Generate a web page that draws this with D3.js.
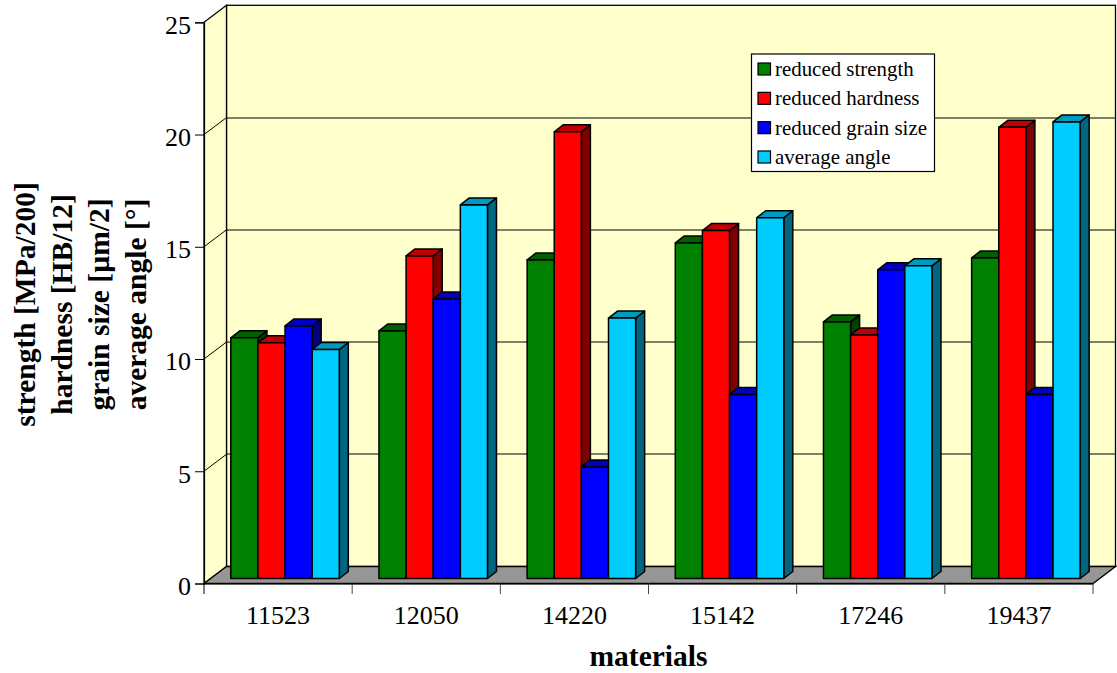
<!DOCTYPE html>
<html>
<head>
<meta charset="utf-8">
<script src="https://cdn.jsdelivr.net/npm/d3@7"></script>
<style>
  html, body { margin: 0; padding: 0; background: #fff; }
  svg { display: block; }
  text { font-family: "Liberation Serif", serif; fill: #000; }
</style>
</head>
<body>
<div id="canvas"></div>
<script>
// Data

const materials = ["11523", "12050", "14220", "15142", "17246", "19437"];
const seriesNames = ["reduced strength", "reduced hardness", "reduced grain size", "average angle"];
const strength = [10.72, 11.03, 14.19, 14.95, 11.43, 14.28];
const hardness = [10.5, 14.37, 19.9, 15.5, 10.85, 20.1];
const grainSize = [11.25, 12.45, 4.97, 8.2, 13.75, 8.2];
const angle = [10.2, 16.64, 11.6, 16.07, 13.93, 20.34];
const yTicks = [0, 5, 10, 15, 20, 25];
const yTitleLines = ["strength [MPa/200]", "hardness [HB/12]", "grain size [\u00b5m/2]", "average angle [\u00b0]"];

const allSeries = [strength, hardness, grainSize, angle];

// Colours: front, top and side faces of each series

const front = ["#008000", "#ff0000", "#0000ff", "#00ccff"];
const top_ = ["#006000", "#c00000", "#0000c0", "#0099c0"];
const side = ["#004000", "#800000", "#000080", "#006680"];

// Setting dimensions

const W = 1117, H = 673;
const plot = {left: 204, right: 1093, top: 22.3, bottom: 583.5};
const wall = {dx: 22.5, dy: 17};   // depth of the 3D box
const bar = {dx: 9, dy: 7, lift: 5};  // depth of a bar, lift from the front edge

// Defining the scales

const xScale = d3.scaleBand().domain(materials).range([plot.left, plot.right]);
const inner = d3.scaleBand().domain(d3.range(4)).range([26.8, 135.3]);
const yScale = d3.scaleLinear().domain([0, 25]).range([plot.bottom, plot.top]);

const svg = d3.select("#canvas").append("svg")
    .attr("width", W)
    .attr("height", H);

const pts = (a) => a.map((p) => p.join(",")).join(" ");

// Drawing the box: back wall, left wall, floor

svg.append("rect")
    .attr("x", plot.left + wall.dx)
    .attr("y", plot.top - wall.dy)
    .attr("width", plot.right - plot.left)
    .attr("height", plot.bottom - plot.top)
    .style("fill", "#ffffcc")
    .style("stroke", "#000")
    .style("stroke-width", 1.3);

svg.append("polygon")
    .attr("points", pts([
        [plot.left, plot.bottom], [plot.left + wall.dx, plot.bottom - wall.dy],
        [plot.left + wall.dx, plot.top - wall.dy], [plot.left, plot.top]
    ]))
    .style("fill", "#ffffcc")
    .style("stroke", "#000")
    .style("stroke-width", 1.3);

svg.append("polygon")
    .attr("points", pts([
        [plot.left, plot.bottom], [plot.right, plot.bottom],
        [plot.right + wall.dx, plot.bottom - wall.dy], [plot.left + wall.dx, plot.bottom - wall.dy]
    ]))
    .style("fill", "#969696")
    .style("stroke", "#000")
    .style("stroke-width", 1.3);

// Gridlines on the walls

yTicks.filter((d) => d > 0 && d < 25).forEach((d) => {
    svg.append("line")
        .attr("x1", plot.left + wall.dx).attr("x2", plot.right + wall.dx)
        .attr("y1", Math.round(yScale(d) - wall.dy)).attr("y2", Math.round(yScale(d) - wall.dy))
        .style("stroke", "#000")
        .style("stroke-width", 1);
    svg.append("line")
        .attr("x1", plot.left).attr("x2", plot.left + wall.dx)
        .attr("y1", yScale(d)).attr("y2", yScale(d) - wall.dy)
        .style("stroke", "#000")
        .style("stroke-width", 1);
});

// Plotting the bars, left to right so each one covers the side of the last

materials.forEach((m, i) => {
    allSeries.forEach((values, s) => {
        const x0 = xScale(m) + inner(s);
        const x1 = x0 + inner.bandwidth();
        const y0 = yScale(0) - bar.lift;
        const y1 = yScale(values[i]) - bar.lift;
        const g = svg.append("g")
            .style("stroke", "#000")
            .style("stroke-width", 1.5)
            .style("stroke-linejoin", "round");
        g.append("polygon")
            .attr("points", pts([[x1, y0], [x1 + bar.dx, y0 - bar.dy], [x1 + bar.dx, y1 - bar.dy], [x1, y1]]))
            .style("fill", side[s]);
        g.append("polygon")
            .attr("points", pts([[x0, y1], [x1, y1], [x1 + bar.dx, y1 - bar.dy], [x0 + bar.dx, y1 - bar.dy]]))
            .style("fill", top_[s]);
        g.append("rect")
            .attr("x", x0).attr("y", y1)
            .attr("width", x1 - x0).attr("height", y0 - y1)
            .style("fill", front[s]);
    });
});

// Plotting the axes

const yAxis = svg.append("g")
    .attr("transform", "translate(" + plot.left + ",0)")
    .call(d3.axisLeft(yScale).tickValues(yTicks).tickSize(9).tickPadding(4));
yAxis.select(".domain").style("stroke", "#000").style("stroke-width", 1.2);
yAxis.selectAll("text")
    .attr("dy", "0.42em")
    .style("font-family", '"Liberation Serif", serif')
    .style("font-size", "26px");

const xAxis = svg.append("g")
    .attr("transform", "translate(0," + plot.bottom + ")")
    .call(d3.axisBottom(xScale).tickSize(0).tickPadding(22));
xAxis.select(".domain").style("stroke", "#000").style("stroke-width", 1.2);
xAxis.selectAll("text")
    .style("font-family", '"Liberation Serif", serif')
    .style("font-size", "26px");

// The category ticks sit between the groups, not on the labels

materials.concat([null]).forEach((m, i) => {
    const x = m === null ? plot.right : xScale(m);
    svg.append("line")
        .attr("x1", x).attr("x2", x)
        .attr("y1", plot.bottom).attr("y2", plot.bottom + 10.5)
        .style("stroke", i === 0 ? "#000" : "#444")
        .style("stroke-width", 1);
});

// Adding the titles and labels

svg.append("text")
    .attr("x", 648.5)
    .attr("y", 666)
    .style("font-size", "29.5px")
    .style("font-weight", 700)
    .style("text-anchor", "middle")
    .text("materials");

const yTitleX = [35, 72, 109, 146];
yTitleLines.forEach((line, i) => {
    svg.append("text")
        .attr("transform", "translate(" + yTitleX[i] + ",304.5) rotate(-90)")
        .style("font-size", "29.5px")
        .style("font-weight", 700)
        .style("text-anchor", "middle")
        .text(line);
});

// Legend

const legend = svg.append("g");
legend.append("rect")
    .attr("x", 751.5).attr("y", 54)
    .attr("width", 183).attr("height", 117.5)
    .style("fill", "#fff")
    .style("stroke", "#000")
    .style("stroke-width", 1.2);

const legendY = d3.scalePoint().domain(seriesNames).range([69, 157]);
seriesNames.forEach((name, s) => {
    legend.append("rect")
        .attr("x", 758).attr("y", legendY(name) - 6)
        .attr("width", 12.5).attr("height", 12)
        .style("fill", front[s])
        .style("stroke", "#000")
        .style("stroke-width", 1.2);
    legend.append("text")
        .attr("x", 775)
        .attr("y", legendY(name) + 7)
        .style("font-size", "20.9px")
        .text(name);
});
</script>
</body>
</html>
